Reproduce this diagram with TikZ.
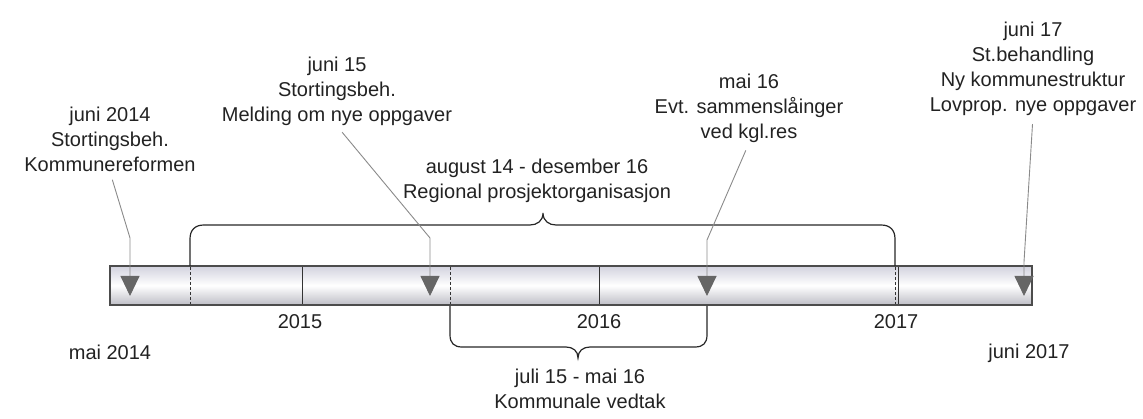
\documentclass[tikz,border=0pt]{standalone}
\usepackage{fontspec}
\setmainfont{Liberation Sans}
\usetikzlibrary{arrows.meta}
\definecolor{txtgray}{HTML}{222222}
\definecolor{ptrgray}{HTML}{8A8A8A}
\definecolor{tipgray}{HTML}{666666}
\definecolor{bartop}{HTML}{D2D2DE}
\definecolor{barbot}{HTML}{BEBEC6}
\tikzstyle{lbl}=[align=center,inner sep=0pt,text=txtgray,font=\fontsize{20}{25}\selectfont]
\tikzstyle{ptr}=[ptrgray,line width=0.9pt,shorten <=8pt,-{Triangle[width=19pt,length=20pt,color=tipgray]}]
\tikzstyle{brace}=[line width=1.2pt,black!85]
\tikzstyle{sep}=[line width=1pt,black!80]
\tikzstyle{sepdash}=[sep,dash pattern=on 3pt off 2pt]
\begin{document}
\begin{tikzpicture}[x=1pt,y=-1pt]
            \useasboundingbox (0,0) rectangle (1143,419);
            % time bar
            \draw[black!70,line width=1.5pt,top color=bartop,bottom color=barbot,middle color=white]
                (110,266) rectangle (1032,305);
            \draw[sepdash] (190,267) -- (190,304);
            \draw[sep] (302,267) -- (302,304);
            \draw[sepdash] (450,267) -- (450,304);
            \draw[sep] (599,267) -- (599,304);
            \draw[sepdash] (895,267) -- (895,304);
            \draw[sep] (898,267) -- (898,304);
            % years
            \node[lbl] (Y15) at (300,322) {2015};
            \node[lbl] (Y16) at (599,322) {2016};
            \node[lbl] (Y17) at (896,322) {2017};
            \node[lbl] (START) at (110,352) {mai 2014};
            \node[lbl] (END) at (1029,353) {juni 2017};
            % regional organisation
            \coordinate (RA) at (190,266);
            \coordinate (RB) at (895,266);
            \draw[brace] (RA) -- (190,239) .. controls (190,230) and (195,225) .. (204,225)
                -- (530,225) .. controls (537,225) and (543,221) .. (543,213)
                .. controls (543,221) and (549,225) .. (556,225)
                -- (881,225) .. controls (890,225) and (895,230) .. (895,239) -- (RB);
            \node[lbl,anchor=north] (REG) at (537,159) {august 14 - desember 16\\Regional prosjektorganisasjon};
            % kommunale vedtak
            \coordinate (KA) at (450,306);
            \coordinate (KB) at (707,306);
            \draw[brace] (KA) -- (450,335) .. controls (450,343) and (454,347) .. (462,347)
                -- (566,347) .. controls (573,347) and (578,351) .. (578,358)
                .. controls (578,351) and (583,347) .. (590,347)
                -- (695,347) .. controls (703,347) and (707,343) .. (707,335) -- (KB);
            \node[lbl,anchor=north] (KOM) at (580,369) {juli 15 - mai 16\\Kommunale vedtak};
            % events
            \node[lbl,anchor=north] (J14) at (110,107) {juni 2014\\Stortingsbeh.\\Kommunereformen};
            \coordinate (J14b) at (130,238);
            \coordinate (J14t) at (130,296);
            \draw[ptr] (J14.south) -- (J14b) -- (J14t);
            \node[lbl,anchor=north] (J15) at (337,57) {juni 15\\Stortingsbeh.\\Melding om nye oppgaver};
            \coordinate (J15b) at (430,238);
            \coordinate (J15t) at (430,296);
            \draw[ptr] (J15.south) -- (J15b) -- (J15t);
            \node[lbl,anchor=north] (M16) at (749,74) {mai 16\\Evt. sammenslåinger\\ved kgl.res};
            \coordinate (M16b) at (707,240);
            \coordinate (M16t) at (707,296);
            \draw[ptr] (M16.south) -- (M16b) -- (M16t);
            \node[lbl,anchor=north] (J17) at (1033,22) {juni 17\\St.behandling\\Ny kommunestruktur\\Lovprop. nye oppgaver};
            \coordinate (J17b) at (1024,262);
            \coordinate (J17t) at (1024,296);
            \draw[ptr] (J17.south) -- (J17b) -- (J17t);
        \end{tikzpicture}
\end{document}
